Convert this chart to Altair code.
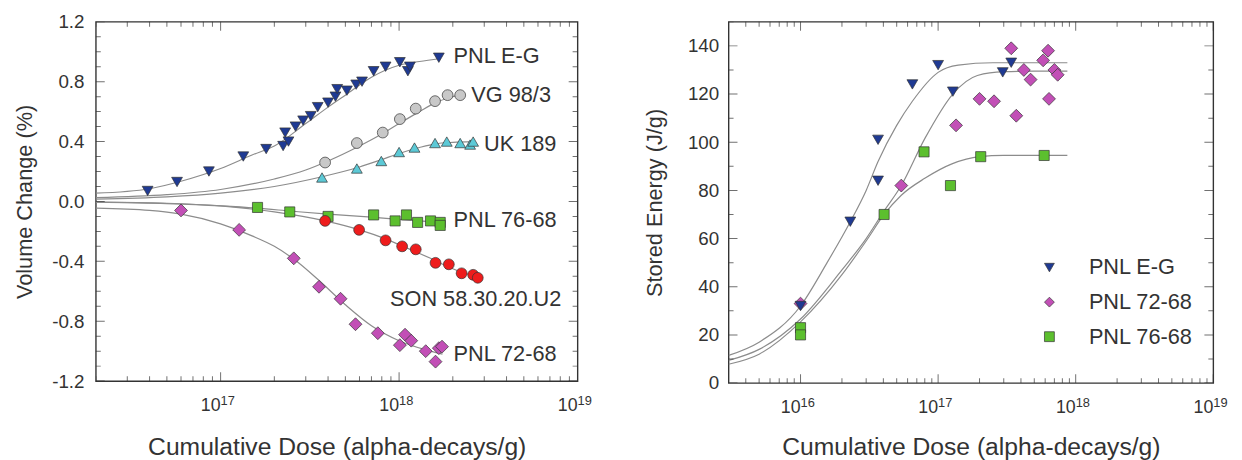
import math
import altair as alt
import pandas as pd

FONT = "Liberation Sans"
TXT = "#333333"

# ---------------- Left panel: volume change ----------------
eg_x = [3.9e16, 5.7e16, 8.6e16, 1.34e17, 1.8e17, 2.24e17, 2.3e17, 2.4e17, 2.63e17, 2.9e17, 3.2e17, 3.5e17,
        4.0e17, 4.4e17, 4.5e17, 5.1e17, 5.75e17, 6.2e17, 7.2e17, 8.4e17, 1.01e18, 1.12e18, 1.15e18, 1.67e18]
eg_y = [0.07, 0.13, 0.20, 0.30, 0.35, 0.37, 0.46, 0.40, 0.50, 0.54, 0.57, 0.63,
        0.66, 0.70, 0.75, 0.74, 0.78, 0.80, 0.87, 0.90, 0.93, 0.87, 0.90, 0.96]
vg_x = [3.85e17, 5.8e17, 8.1e17, 1.01e18, 1.24e18, 1.59e18, 1.87e18, 2.2e18]
vg_y = [0.26, 0.39, 0.46, 0.55, 0.62, 0.67, 0.71, 0.71]
uk_x = [3.7e17, 5.8e17, 7.95e17, 1.0e18, 1.22e18, 1.59e18, 1.85e18, 2.2e18, 2.5e18, 2.6e18]
uk_y = [0.16, 0.22, 0.27, 0.33, 0.36, 0.39, 0.40, 0.39, 0.38, 0.40]
g76_x = [1.61e17, 2.44e17, 4.0e17, 7.2e17, 9.5e17, 1.1e18, 1.27e18, 1.5e18, 1.7e18, 1.7e18]
g76_y = [-0.04, -0.07, -0.10, -0.09, -0.13, -0.09, -0.14, -0.13, -0.14, -0.16]
son_x = [3.85e17, 5.97e17, 8.4e17, 1.04e18, 1.24e18, 1.6e18, 1.9e18, 2.24e18, 2.6e18, 2.76e18]
son_y = [-0.13, -0.19, -0.26, -0.30, -0.32, -0.41, -0.42, -0.48, -0.49, -0.51]
m72_x = [6.0e16, 1.27e17, 2.57e17, 3.56e17, 4.7e17, 5.7e17, 7.6e17, 1.01e18, 1.08e18, 1.17e18,
         1.41e18, 1.6e18, 1.67e18, 1.74e18]
m72_y = [-0.06, -0.19, -0.38, -0.57, -0.65, -0.82, -0.88, -0.96, -0.89, -0.93, -1.0, -1.07, -0.98, -0.97]

eg_fit_x = [2e16, 4e16, 6e16, 1e17, 1.5e17, 2e17, 3e17, 4e17, 5e17, 7e17, 1e18, 1.3e18, 1.7e18]
eg_fit_y = [0.055, 0.085, 0.135, 0.22, 0.31, 0.37, 0.52, 0.63, 0.71, 0.83, 0.91, 0.935, 0.955]
vg_fit_x = [2e16, 5e16, 1e17, 2e17, 3e17, 4e17, 6e17, 8e17, 1e18, 1.3e18, 1.6e18, 2e18, 2.3e18]
vg_fit_y = [0.025, 0.045, 0.08, 0.15, 0.21, 0.27, 0.37, 0.45, 0.52, 0.60, 0.66, 0.70, 0.72]
uk_fit_x = [2e16, 5e16, 1e17, 2e17, 3.7e17, 6e17, 8e17, 1e18, 1.3e18, 1.6e18, 2e18, 2.6e18]
uk_fit_y = [0.015, 0.03, 0.055, 0.10, 0.165, 0.23, 0.28, 0.32, 0.36, 0.385, 0.395, 0.40]
g76_fit_x = [2e16, 5e16, 1e17, 1.6e17, 2.5e17, 4e17, 7e17, 1e18, 1.3e18, 1.7e18]
g76_fit_y = [-0.005, -0.015, -0.03, -0.045, -0.065, -0.085, -0.105, -0.12, -0.13, -0.14]
son_fit_x = [2e16, 5e16, 1e17, 2e17, 3.85e17, 6e17, 8.4e17, 1.1e18, 1.5e18, 2e18, 2.8e18]
son_fit_y = [-0.005, -0.012, -0.03, -0.07, -0.13, -0.19, -0.25, -0.31, -0.38, -0.45, -0.51]
m72_fit_x = [2e16, 4e16, 6e16, 1e17, 1.5e17, 2e17, 2.6e17, 3.5e17, 5e17, 7e17, 1e18, 1.4e18, 1.75e18]
m72_fit_y = [-0.045, -0.06, -0.085, -0.15, -0.23, -0.30, -0.39, -0.52, -0.69, -0.83, -0.93, -0.99, -1.02]

left_names = ["PNL 72-68", "PNL 76-68", "SON 58.30.20.U2", "UK 189", "VG 98/3", "PNL E-G"]
left_shapes = ["diamond", "square", "circle", "triangle-up", "circle", "triangle-down"]
left_colors = ["#c24fb6", "#5cbf2e", "#ee1c1c", "#5cc9d6", "#c8c8c8", "#1f3a93"]

label_text = ["PNL E-G", "VG 98/3", "UK 189", "PNL 76-68", "SON 58.30.20.U2", "PNL 72-68"]
label_x = [2.02e18, 2.54e18, 2.99e18, 2.02e18, 8.9e17, 2.02e18]
label_y = [0.97, 0.71, 0.383, -0.123, -0.65, -1.017]

left_x_major = [1e17, 1e18, 1e19]
left_x_minor = [2e16, 3e16, 4e16, 5e16, 6e16, 7e16, 8e16, 9e16,
                2e17, 3e17, 4e17, 5e17, 6e17, 7e17, 8e17, 9e17,
                2e18, 3e18, 4e18, 5e18, 6e18, 7e18, 8e18, 9e18]
left_y_major = [-1.2, -0.8, -0.4, 0.0, 0.4, 0.8, 1.2]
left_y_minor = [-1.1, -1.0, -0.9, -0.7, -0.6, -0.5, -0.3, -0.2, -0.1,
                0.1, 0.2, 0.3, 0.5, 0.6, 0.7, 0.9, 1.0, 1.1]

# ---------------- Right panel: stored energy ----------------
reg_x = [1e16, 2.3e16, 3.66e16, 3.66e16, 6.5e16, 1.0e17, 1.28e17, 2.95e17, 3.4e17]
reg_y = [32, 67, 84, 101, 124, 132, 121, 129, 133]
rm72_x = [1e16, 5.4e16, 1.35e17, 2.0e17, 2.55e17, 3.4e17, 3.7e17, 4.2e17, 4.7e17, 5.8e17, 6.3e17,
          6.4e17, 7.0e17, 7.4e17]
rm72_y = [33, 82, 107, 118, 117, 139, 111, 130, 126, 134, 138, 118, 130, 128]
rg76_x = [1e16, 1e16, 4.05e16, 7.9e16, 1.23e17, 2.04e17, 5.9e17]
rg76_y = [23, 20, 70, 96, 82, 94, 94.5]

reg_fit_x = [3e15, 5e15, 1e16, 1.56e16, 2.3e16, 3e16, 3.66e16, 5e16, 6.5e16, 1e17, 1.4e17, 2.5e17, 8.7e17]
reg_fit_y = [11.5, 17, 32, 50, 67, 80, 92, 107, 117, 129, 132, 133, 133]
rm72_fit_x = [3e15, 5e15, 1e16, 2e16, 3e16, 4e16, 5.4e16, 8e16, 1.28e17, 1.93e17, 3e17, 5e17, 8.7e17]
rm72_fit_y = [9.4, 14, 26.6, 47, 60, 71, 82, 101.5, 120, 127.7, 129.3, 129.5, 129.5]
rg76_fit_x = [3e15, 5e15, 1e16, 2e16, 3e16, 4.05e16, 5.4e16, 8e16, 1.26e17, 2e17, 3e17, 8.7e17]
rg76_fit_y = [7.8, 12, 25.4, 45, 59, 70, 78, 85, 91, 94, 94.5, 94.5]

right_names = ["PNL E-G", "PNL 72-68", "PNL 76-68"]
right_shapes = ["triangle-down", "diamond", "square"]
right_colors = ["#1f3a93", "#c24fb6", "#5cbf2e"]

right_x_major = [1e16, 1e17, 1e18, 1e19]
right_x_minor = [4e15, 5e15, 6e15, 7e15, 8e15, 9e15,
                 2e16, 3e16, 4e16, 5e16, 6e16, 7e16, 8e16, 9e16,
                 2e17, 3e17, 4e17, 5e17, 6e17, 7e17, 8e17, 9e17,
                 2e18, 3e18, 4e18, 5e18, 6e18, 7e18, 8e18, 9e18]
right_y_major = [0, 20, 40, 60, 80, 100, 120, 140]
right_y_minor = [10, 30, 50, 70, 90, 110, 130, 150]

MAJOR = 9
MINOR = 5
SHAPE_SIZE = {"diamond": 170, "square": 105, "circle": 120, "triangle-up": 120, "triangle-down": 120}


def frame(xs, ys, name):
    return pd.DataFrame({"dose": xs, "val": ys, "series": name})


def ticks_df(major, minor):
    return pd.DataFrame({"t": list(major) + list(minor),
                         "len": [2 * MAJOR] * len(major) + [2 * MINOR] * len(minor)})


def panel(point_df, fit_df, names, shapes, colors, xdom, ydom, x_major, x_minor, y_major, y_minor,
          y_title, y_label_expr, W, H, legend, ypads, xpad, label_df=None):
    xs = alt.Scale(type="log", domain=xdom, nice=False)
    ys = alt.Scale(domain=ydom, nice=False, zero=False)
    x_axis = alt.Axis(values=x_major, labels=False, title="Cumulative Dose (alpha-decays/g)",
                      titlePadding=xpad, titleFont=FONT, titleFontSize=25, titleFontWeight="normal",
                      titleColor=TXT, ticks=False, domain=False, grid=False)
    y_axis = alt.Axis(values=y_major, labelExpr=y_label_expr, title=y_title,
                      labelPadding=ypads[0], titlePadding=ypads[1], labelFont=FONT, labelFontSize=19,
                      labelColor=TXT, titleFont=FONT, titleFontSize=22, titleFontWeight="normal",
                      titleColor=TXT, ticks=False, domain=False, grid=False)
    X = lambda f: alt.X(f, scale=xs, axis=x_axis)
    Y = lambda f: alt.Y(f, scale=ys, axis=y_axis)
    fits = alt.Chart(fit_df).mark_line(color="#8c8c8c", strokeWidth=1.2, interpolate="monotone",
                                       clip=True).encode(x=X("dose:Q"), y=Y("val:Q"), detail="series:N")
    if legend:
        leg = alt.Legend(title=None, orient="none", legendX=314, legendY=238, labelFontSize=22,
                         labelFont=FONT, labelColor=TXT, symbolSize=100, symbolStrokeColor="#333",
                         symbolStrokeWidth=0.7, rowPadding=13, labelOffset=29, padding=0)
    else:
        leg = None
    pts = alt.Chart(point_df).mark_point(filled=True, stroke="#333333", strokeWidth=0.7,
                                         opacity=1).encode(
        x=X("dose:Q"), y=Y("val:Q"),
        color=alt.Color("series:N", scale=alt.Scale(domain=names, range=colors), legend=leg),
        shape=alt.Shape("series:N", scale=alt.Scale(domain=names, range=shapes), legend=leg),
        size=alt.Size("msize:Q", scale=None, legend=None),
        order=alt.Order("idx:Q"),
    )
    xt = ticks_df(x_major, x_minor)
    yt = ticks_df(y_major, y_minor)
    tick_layers = []
    for yv in [0, H]:
        tick_layers.append(alt.Chart(xt).mark_tick(orient="vertical", thickness=1, color="#333333",
                                                   clip=True).encode(
            x=X("t:Q"), y=alt.value(yv), size=alt.Size("len:Q", scale=None)))
    for xv in [0, W]:
        tick_layers.append(alt.Chart(yt).mark_tick(orient="horizontal", thickness=1, color="#333333",
                                                   clip=True).encode(
            y=Y("t:Q"), x=alt.value(xv), size=alt.Size("len:Q", scale=None)))
    # power-of-ten tick labels: "10" plus a raised exponent
    xl = pd.DataFrame({"t": x_major, "base": ["10"] * len(x_major),
                       "exp": [str(int(round(math.log10(v)))) for v in x_major]})
    base = alt.Chart(xl).mark_text(align="right", baseline="middle", font=FONT, fontSize=18,
                                   color=TXT).encode(x=X("t:Q"), y=alt.value(H + 25), text="base:N")
    expo = alt.Chart(xl).mark_text(align="left", baseline="middle", font=FONT, fontSize=13,
                                   color=TXT).encode(x=X("t:Q"), y=alt.value(H + 20), text="exp:N")
    layers = [fits, pts] + tick_layers + [base, expo]
    if label_df is not None:
        layers.append(alt.Chart(label_df).mark_text(align="left", baseline="middle", font=FONT,
                                                    fontSize=22, color=TXT).encode(
            x=X("dose:Q"), y=Y("val:Q"), text="text:N"))
    return alt.layer(*layers).properties(width=W, height=H)


def shaped(df, names, shapes):
    lookup = dict(zip(names, shapes))
    df["msize"] = [SHAPE_SIZE[lookup[s]] for s in df["series"]]
    df["idx"] = range(len(df))
    return df


left_pts = shaped(pd.concat([frame(m72_x, m72_y, "PNL 72-68"), frame(g76_x, g76_y, "PNL 76-68"),
                             frame(son_x, son_y, "SON 58.30.20.U2"), frame(uk_x, uk_y, "UK 189"),
                             frame(vg_x, vg_y, "VG 98/3"), frame(eg_x, eg_y, "PNL E-G")],
                            ignore_index=True), left_names, left_shapes)
left_fit = pd.concat([frame(eg_fit_x, eg_fit_y, "PNL E-G"), frame(vg_fit_x, vg_fit_y, "VG 98/3"),
                      frame(uk_fit_x, uk_fit_y, "UK 189"), frame(g76_fit_x, g76_fit_y, "PNL 76-68"),
                      frame(son_fit_x, son_fit_y, "SON 58.30.20.U2"),
                      frame(m72_fit_x, m72_fit_y, "PNL 72-68")], ignore_index=True)
left_labels = pd.DataFrame({"dose": label_x, "val": label_y, "text": label_text})

right_pts = shaped(pd.concat([frame(rg76_x, rg76_y, "PNL 76-68"), frame(rm72_x, rm72_y, "PNL 72-68"),
                              frame(reg_x, reg_y, "PNL E-G")], ignore_index=True), right_names, right_shapes)
right_fit = pd.concat([frame(reg_fit_x, reg_fit_y, "PNL E-G"), frame(rm72_fit_x, rm72_fit_y, "PNL 72-68"),
                       frame(rg76_fit_x, rg76_fit_y, "PNL 76-68")], ignore_index=True)

left = panel(left_pts, left_fit, left_names, left_shapes, left_colors, [2e16, 1e19], [-1.2, 1.2],
             left_x_major, left_x_minor, left_y_major, left_y_minor, "Volume Change (%)",
             "replace(format(datum.value, '.1f'), '\u2212', '-')", 488, 364, False, (12, 15), 54,
             left_labels)
right = panel(right_pts, right_fit, right_names, right_shapes, right_colors, [3e15, 1e19], [0, 150],
              right_x_major, right_x_minor, right_y_major, right_y_minor, "Stored Energy (J/g)",
              "format(datum.value, 'd')", 491, 366, True, (10, 21), 52)

chart = alt.hconcat(left, right, spacing=50).resolve_scale(
    color="independent", shape="independent", x="independent", y="independent"
).properties(
    padding={"left": 5, "top": 1, "right": 5, "bottom": 0}
).configure(background="white").configure_view(stroke="#333333", strokeWidth=1.4)

chart.save("out.html", embed_options={"renderer": "svg", "actions": False})
